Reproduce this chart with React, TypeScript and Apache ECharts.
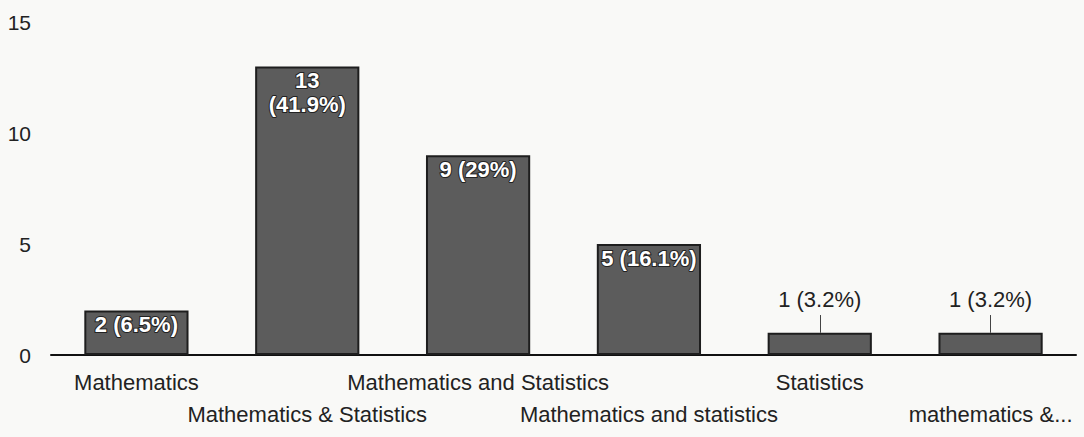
import React, { useEffect, useRef } from "react";
import * as echarts from "echarts";

const categories = [
  "Mathematics",
  "Mathematics & Statistics",
  "Mathematics and Statistics",
  "Mathematics and statistics",
  "Statistics",
  "mathematics &...",
];
const counts = [2, 13, 9, 5, 1, 1];
const labels = ["2 (6.5%)", "13\n(41.9%)", "9 (29%)", "5 (16.1%)", "1 (3.2%)", "1 (3.2%)"];
const yTicks = [0, 5, 10, 15];

export default function App() {
  const ref = useRef<HTMLDivElement>(null);
  useEffect(() => {
    document.body.style.margin = "0";
    const chart = echarts.init(ref.current!, null, { renderer: "svg" });
    const font = "Liberation Sans, Arial, sans-serif";
    const data = counts.map((v, i) => {
      const inside = v >= 2;
      return {
        value: v,
        label: inside
          ? {
              show: true,
              position: "insideTop",
              distance: 2,
              formatter: labels[i],
              color: "#ffffff",
              fontSize: 22,
              fontWeight: "bold",
              fontFamily: font,
              lineHeight: 24,
              textBorderColor: "#222",
              textBorderWidth: 2,
            }
          : {
              show: true,
              position: "top",
              distance: 22,
              formatter: labels[i],
              color: "#222",
              fontSize: 22,
              fontFamily: font,
            },
      };
    });
    const leaders = counts
      .map((v, i) => ({ v, i }))
      .filter((d) => d.v < 2)
      .map((d) => [
        { coord: [categories[d.i], d.v], symbol: "none" },
        { coord: [categories[d.i], d.v + 0.8], symbol: "none" },
      ]);
    chart.setOption({
      animation: false,
      backgroundColor: "#f9f9f7",
      grid: { left: 51, right: 8, top: 22, bottom: 82 },
      xAxis: {
        type: "category",
        data: categories,
        axisTick: { show: false },
        axisLine: { lineStyle: { color: "#111", width: 2 } },
        axisLabel: {
          interval: 0,
          fontSize: 22,
          color: "#222",
          fontFamily: font,
          margin: 11,
          lineHeight: 32,
          formatter: (val: string) => {
            const idx = categories.indexOf(val);
            return idx % 2 === 1 ? "\n" + val : val;
          },
        },
      },
      yAxis: {
        type: "value",
        min: yTicks[0],
        max: yTicks[yTicks.length - 1],
        interval: 5,
        splitLine: { show: false },
        axisLine: { show: false },
        axisTick: { show: false },
        axisLabel: { fontSize: 21, color: "#222", fontFamily: font, margin: 20 },
      },
      series: [
        {
          type: "bar",
          data,
          barWidth: "61%",
          itemStyle: { color: "#5c5c5c", borderColor: "#1e1e1e", borderWidth: 2 },
          markLine: {
            silent: true,
            symbol: "none",
            label: { show: false },
            lineStyle: { color: "#444", width: 1, type: "solid" },
            data: leaders,
          },
        },
      ],
    });
    return () => chart.dispose();
  }, []);
  return <div ref={ref} style={{ width: 1084, height: 437 }} />;
}
